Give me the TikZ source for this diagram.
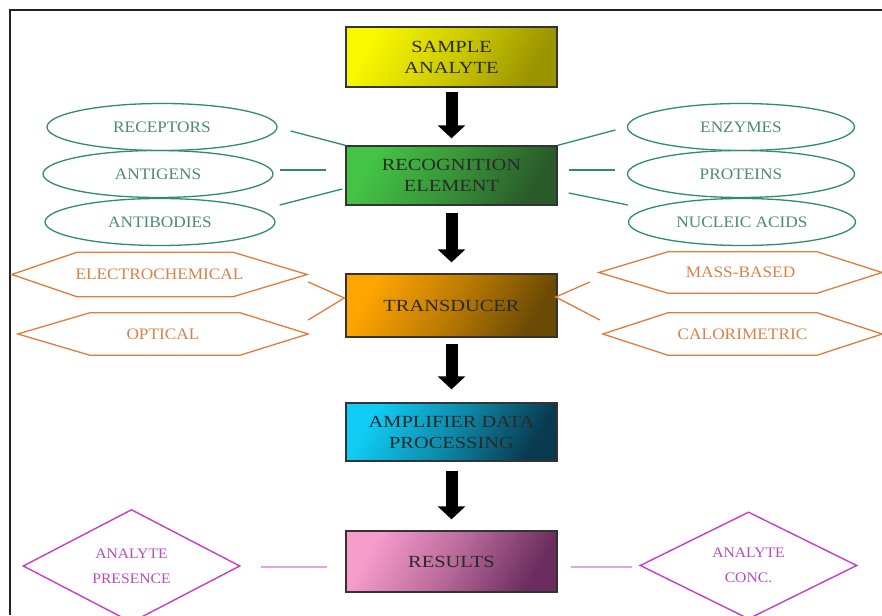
\documentclass[tikz,border=0pt]{standalone}
\usepackage{fontspec}
\setmainfont{Liberation Serif}
\newfontfamily\boxfont[FakeStretch=1.2]{Liberation Serif}
\newfontfamily\labfont[FakeStretch=1.08]{Liberation Serif}
\usetikzlibrary{shapes.geometric,arrows.meta,calc}
\definecolor{boxtext}{HTML}{2A2A2A}
\definecolor{boxline}{HTML}{333333}
\definecolor{ellcol}{HTML}{2E8B6E}
\definecolor{elltext}{HTML}{4A8A78}
\definecolor{hexcol}{HTML}{E07B39}
\definecolor{hextext}{HTML}{D8824A}
\definecolor{diacol}{HTML}{C83CC8}
\definecolor{diatext}{HTML}{B84CB8}
\definecolor{reslink}{HTML}{E4A4E4}
\definecolor{frame}{HTML}{222222}
\definecolor{yelA}{HTML}{F8F800}
\definecolor{yelB}{HTML}{9A9400}
\definecolor{grnA}{HTML}{44C444}
\definecolor{grnB}{HTML}{2A5A2A}
\definecolor{orgA}{HTML}{FFA400}
\definecolor{orgB}{HTML}{6B4A05}
\definecolor{cyaA}{HTML}{10CCF4}
\definecolor{cyaB}{HTML}{0A3A50}
\definecolor{pnkA}{HTML}{F89CCC}
\definecolor{pnkB}{HTML}{6B2D5F}
\tikzset{
  flowbox/.style={draw=boxline, line width=1.3pt, minimum width=211pt, inner sep=0pt,
    align=center, text=boxtext, font=\boxfont\fontsize{17}{21}\selectfont},
  grad/.style n args={2}{top color=#1, bottom color=#2, middle color=#1!55!#2, shading angle=60},
  bigarrow/.style={line width=12pt, black, -{Triangle[width=27pt,length=13pt]}},
  ell/.style={ellipse, draw=ellcol, line width=1.3pt, minimum width=230pt, minimum height=47pt,
    inner sep=0pt, text=elltext, font=\labfont\fontsize{16}{19}\selectfont},
  elllink/.style={draw=ellcol, line width=1.3pt},
  hexnode/.style={rectangle, inner sep=0pt, text=hextext, font=\labfont\fontsize{16}{19}\selectfont},
  hexline/.style={draw=hexcol, line width=1.3pt, line join=miter},
  dia/.style={diamond, draw=diacol, line width=1.4pt, inner sep=0pt, align=center,
    text=diatext, font=\labfont\fontsize{14.5}{25}\selectfont},
  reslinkstyle/.style={draw=reslink, line width=1.4pt},
}
\begin{document}
\begin{tikzpicture}[x=1pt,y=1pt]
\useasboundingbox (0,0) rectangle (882,615);
% frame
\draw[frame, line width=2.5pt] (10,0) -- (10,605) -- (882,605);

% main boxes
\node[flowbox, minimum height=60pt, grad={yelA}{yelB}] (sample) at (451.5,558) {SAMPLE\\ANALYTE};
\node[flowbox, minimum height=59pt, grad={grnA}{grnB}] (recog) at (451.5,439.5) {RECOGNITION\\ELEMENT};
\node[flowbox, minimum height=63pt, grad={orgA}{orgB}] (trans) at (451.5,309.5) {TRANSDUCER};
\node[flowbox, minimum height=58pt, grad={cyaA}{cyaB}] (amp) at (451.5,183) {AMPLIFIER DATA\\PROCESSING};
\node[flowbox, minimum height=61pt, grad={pnkA}{pnkB}] (res) at (451.5,53.5) {RESULTS};

% arrows
\draw[bigarrow] ([yshift=-4pt]sample.south) -- ([yshift=7pt]recog.north);
\draw[bigarrow] ([yshift=-7pt]recog.south) -- ([yshift=11pt]trans.north);
\draw[bigarrow] ([yshift=-6pt]trans.south) -- ([yshift=13pt]amp.north);
\draw[bigarrow] ([yshift=-9pt]amp.south) -- ([yshift=11pt]res.north);

% ellipses
\node[ell] (rec) at (162,488) {RECEPTORS};
\node[ell] (ant) at (158,441) {ANTIGENS};
\node[ell] (abd) at (160,393) {ANTIBODIES};
\node[ell, minimum width=227pt] (enz) at (741,488) {ENZYMES};
\node[ell, minimum width=227pt] (pro) at (741,441) {PROTEINS};
\node[ell, minimum width=227pt] (nuc) at (742,393) {NUCLEIC ACIDS};

\draw[elllink] ($(rec.east)+(13,-4)$) -- (recog.north west);
\draw[elllink] ($(ant.east)+(6,4)$) -- ($(recog.west)+(-19,5.5)$);
\draw[elllink] ($(abd.east)+(4,17)$) -- ($(recog.west)+(-3,-13.5)$);
\draw[elllink] (recog.north east) -- ($(enz.west)+(-11.5,-3)$);
\draw[elllink] ($(recog.east)+(11,5.5)$) -- ($(pro.west)+(-11.5,4)$);
\draw[elllink] ($(recog.east)+(11,-17.5)$) -- ($(nuc.west)+(0,17)$);

% hexagons
\node[hexnode, minimum width=295pt, minimum height=44pt] (ec) at (159.5,340.5) {ELECTROCHEMICAL};
\node[hexnode, minimum width=290pt, minimum height=42pt] (opt) at (163,281) {OPTICAL};
\node[hexnode, minimum width=283pt, minimum height=41pt] (mass) at (740.5,342.5) {MASS-BASED};
\node[hexnode, minimum width=279pt, minimum height=42pt] (cal) at (742.5,281) {CALORIMETRIC};
\foreach \h/\l/\r in {ec/65/74, opt/72/68, mass/69/65, cal/65/65}{
  \draw[hexline] (\h.west) -- ([xshift=\l pt]\h.north west) -- ([xshift=-\r pt]\h.north east)
    -- (\h.east) -- ([xshift=-\r pt]\h.south east) -- ([xshift=\l pt]\h.south west) -- cycle;
}
\draw[hexline] ($(ec.east)+(1,-7.5)$) -- ($(trans.west)+(-1,7.5)$) -- ($(opt.east)+(0,14)$);
\draw[hexline] ($(mass.west)+(-9,-9.5)$) -- ($(trans.east)+(-2,8.5)$) -- ($(cal.west)+(-3,14)$);

% diamonds
\node[dia, minimum width=217pt, minimum height=91pt] (pres) at (131.5,49) {ANALYTE\\PRESENCE};
\node[dia, minimum width=217pt, minimum height=89pt] (conc) at (748.5,49.5) {ANALYTE\\CONC.};
\draw[reslinkstyle] ($(pres.east)+(20,-1)$) -- ($(res.west)+(-18,-5.5)$);
\draw[reslinkstyle] ($(res.east)+(13,-5.5)$) -- ($(conc.west)+(-7,-1.5)$);
\end{tikzpicture}
\end{document}
